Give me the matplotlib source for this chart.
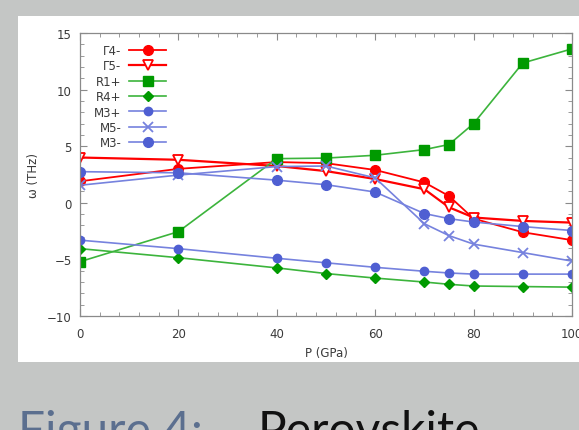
import matplotlib
matplotlib.use('Agg')
import matplotlib.pyplot as plt
from matplotlib.patches import Rectangle
from matplotlib.ticker import MultipleLocator

# pressure points (GPa)
P = [0, 20, 40, 50, 60, 70, 75, 80, 90, 100]

# phonon frequencies (THz)
G4m = [1.9, 3.0, 3.6, 3.5, 2.9, 1.8, 0.6, -1.4, -2.6, -3.3]
G5m = [4.0, 3.8, 3.25, 2.8, 2.1, 1.2, -0.4, -1.3, -1.6, -1.75]
R1p = [-5.2, -2.55, 3.9, 3.95, 4.2, 4.7, 5.15, 7.0, 12.35, 13.6]
R4p = [-4.05, -4.85, -5.75, -6.25, -6.65, -7.0, -7.2, -7.35, -7.4, -7.45]
M3p = [-3.3, -4.05, -4.9, -5.3, -5.7, -6.05, -6.2, -6.3, -6.3, -6.3]
M5m = [1.55, 2.45, 3.2, 3.25, 2.2, -1.85, -2.9, -3.65, -4.4, -5.15]
M3m = [2.75, 2.65, 2.0, 1.6, 0.95, -0.95, -1.4, -1.7, -2.1, -2.45]

red = '#ff0000'
green = '#009a00'
green_l = '#3cb43c'
blue = '#4f5fd2'
blue_l = '#7682de'

fig = plt.figure(figsize=(5.79, 4.31), dpi=100)
fig.patch.set_facecolor('#c4c6c5')
fig.patches.append(Rectangle((18/579, 1 - 363/431), 1, (363 - 17)/431,
                             transform=fig.transFigure, facecolor='white',
                             edgecolor='none', zorder=-10))

ax = fig.add_axes([80/579, 1 - 317/431, (572 - 80)/579, (317 - 34)/431])
ax.set_facecolor('white')

ax.plot(P, G4m, color=red, lw=1.3, marker='o', ms=7, label='Γ4-')
ax.plot(P, G5m, color=red, lw=1.6, marker='v', ms=7, mfc='white', mec=red,
        mew=1.3, label='Γ5-')
ax.plot(P, R1p, color=green_l, lw=1.2, marker='s', ms=7.5, mfc=green,
        mec=green, label='R1+')
ax.plot(P, R4p, color=green_l, lw=1.2, marker='D', ms=5.5, mfc=green,
        mec=green, label='R4+')
ax.plot(P, M3p, color=blue_l, lw=1.2, marker='o', ms=6, mfc=blue,
        mec=blue, label='M3+')
ax.plot(P, M5m, color=blue_l, lw=1.2, marker='x', ms=7, mec=blue_l,
        mew=1.3, label='M5-')
ax.plot(P, M3m, color=blue_l, lw=1.2, marker='o', ms=7, mfc=blue,
        mec=blue, label='M3-')

ax.set_xlim(0, 100)
ax.set_ylim(-10, 15)
ax.xaxis.set_major_locator(MultipleLocator(20))
ax.xaxis.set_minor_locator(MultipleLocator(4))
ax.yaxis.set_major_locator(MultipleLocator(5))
ax.yaxis.set_minor_locator(MultipleLocator(1))
ax.tick_params(which='both', direction='in', top=True, right=True,
               colors='#8a8a8a', labelcolor='#3a3a3a', labelsize=8.5)
ax.tick_params(which='major', length=5, width=0.8)
ax.tick_params(which='minor', length=3, width=0.6)
ax.tick_params(axis='x', pad=8)
ax.tick_params(axis='y', pad=6)
for s in ax.spines.values():
    s.set_color('#8a8a8a')
    s.set_linewidth(0.9)

ax.set_xlabel('P (GPa)', fontsize=8.5, color='#3a3a3a', labelpad=4)
ax.set_ylabel('ω (THz)', fontsize=8.5, color='#3a3a3a', labelpad=5)

leg = ax.legend(loc='upper left', bbox_to_anchor=(0.012, 0.99), frameon=False,
                markerfirst=False, fontsize=8.5, handlelength=3.2,
                labelspacing=0.2, handletextpad=0.6, borderpad=0.2)
for t in leg.get_texts():
    t.set_color('#3a3a3a')

fig.text(18/579, -15/431, 'Figure 4:', fontsize=34.5, color='#5b6f8f',
         family='Lato', va='baseline', ha='left')
fig.text(258/579, -15/431, 'Perovskite', fontsize=34.5, color='#111111',
         family='Lato', va='baseline', ha='left')

fig.savefig('out.png', dpi=100, facecolor=fig.get_facecolor())
